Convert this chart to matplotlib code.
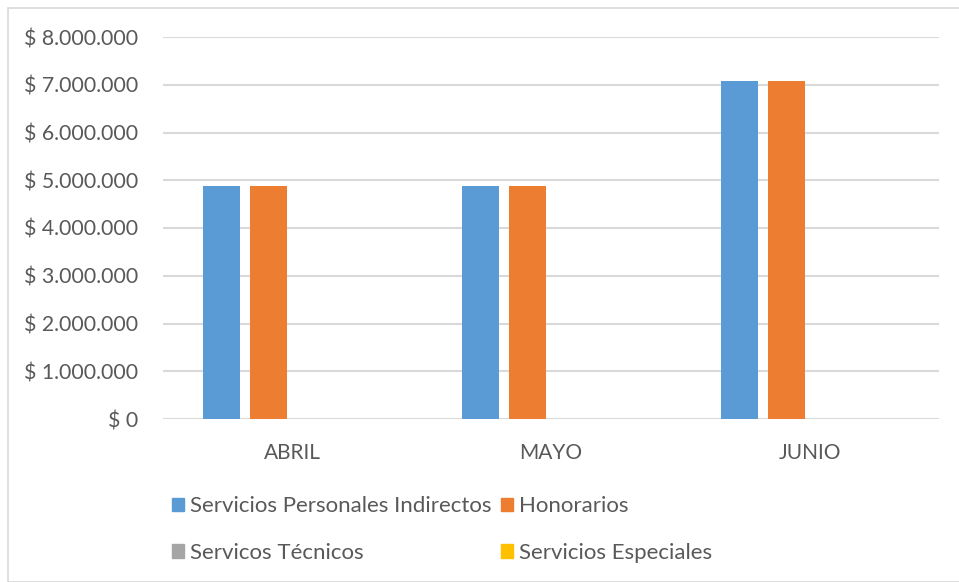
import matplotlib.pyplot as plt
import matplotlib.patches as mpatches
import numpy as np

months = ["ABRIL", "MAYO", "JUNIO"]
servicios_personales = [4870000, 4870000, 7070000]
honorarios = [4870000, 4870000, 7070000]
servicios_tecnicos = [0, 0, 0]
servicios_especiales = [0, 0, 0]
series_names = ["Servicios Personales Indirectos", "Honorarios",
                "Servicos Técnicos", "Servicios Especiales"]
colors = ["#5B9BD5", "#ED7D31", "#A5A5A5", "#FFC000"]

plt.rcParams["font.family"] = ["Lato", "DejaVu Sans"]
fig = plt.figure(figsize=(9.59, 5.82), dpi=100)
ax = fig.add_axes([163 / 959, 1 - 419 / 582, (939 - 163) / 959, (419 - 37) / 582])

x = np.arange(len(months))
slot = 0.1815
width = 0.143
all_series = [servicios_personales, honorarios, servicios_tecnicos, servicios_especiales]
for i, vals in enumerate(all_series):
    ax.bar(x + (i - 1.5) * slot, vals, width, color=colors[i], label=series_names[i], zorder=3)

ax.set_xlim(-0.5, 2.5)
ax.set_ylim(0, 8000000)
ticks = list(range(0, 8000001, 1000000))
ax.set_yticks(ticks)
ax.set_yticklabels(["$ 0" if v == 0 else "$ " + f"{v:,}".replace(",", ".") for v in ticks])
ax.set_xticks(x)
ax.set_xticklabels(months)
ax.grid(axis="y", color="#D9D9D9", linewidth=1.5, zorder=0)
for s in ax.spines.values():
    s.set_visible(False)
ax.tick_params(axis="y", length=0, labelsize=15.3, colors="#595959", pad=18)
ax.tick_params(axis="x", length=0, labelsize=15, colors="#595959", pad=17)

handles = [mpatches.Patch(color=colors[i]) for i in range(4)]
order = [0, 2, 1, 3]
fig.legend([handles[i] for i in order], [series_names[i] for i in order],
           loc="upper left", bbox_to_anchor=(161 / 959, 1 - 485 / 582), ncol=2,
           frameon=False, fontsize=16, labelcolor="#595959", borderpad=0,
           handlelength=0.55, handleheight=0.55, handletextpad=0.27,
           columnspacing=0.4, labelspacing=1.2)

fig.patches.append(mpatches.Rectangle((8 / 959, 0), 1, 1 - 8 / 582, transform=fig.transFigure,
                                      fill=False, edgecolor="#D9D9D9", linewidth=1.2))

plt.savefig("out.png", dpi=100)
